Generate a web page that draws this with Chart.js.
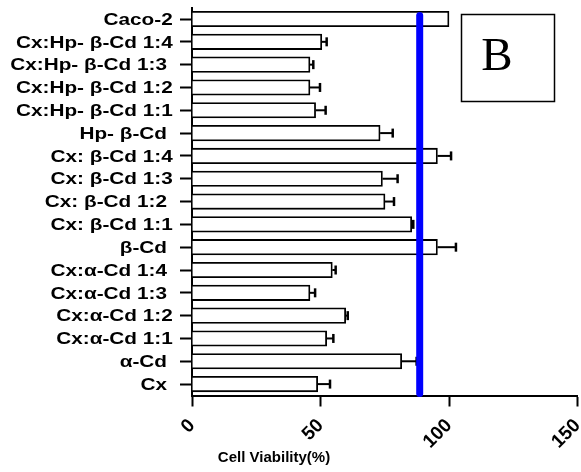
<!DOCTYPE html>
<html>
<head>
<meta charset="utf-8">
<script src="https://cdn.jsdelivr.net/npm/chart.js@4/dist/chart.umd.min.js"></script>
<style>
  html, body { margin: 0; padding: 0; background: #fff; }
  #wrap { width: 581px; height: 472px; }
</style>
</head>
<body>
<div id="wrap"><canvas id="c" width="581" height="472"></canvas></div>
<script>
// Samples, listed top to bottom
const categories = [
  'Caco-2',
  'Cx:Hp- β-Cd 1:4',
  'Cx:Hp- β-Cd 1:3 ',
  'Cx:Hp- β-Cd 1:2',
  'Cx:Hp- β-Cd 1:1',
  'Hp- β-Cd ',
  'Cx: β-Cd 1:4',
  'Cx: β-Cd 1:3',
  'Cx: β-Cd 1:2 ',
  'Cx: β-Cd 1:1',
  'β-Cd ',
  'Cx:α-Cd 1:4 ',
  'Cx:α-Cd 1:3 ',
  'Cx:α-Cd 1:2',
  'Cx:α-Cd 1:1',
  'α-Cd ',
  'Cx '
];

// Mean cell viability (%)
const viability = [100, 50.5, 45.9, 45.9, 48.1, 73.2, 95.5, 74.1, 75.1, 85.5, 95.5, 54.6, 45.9, 59.8, 52.4, 81.6, 48.9];

// Standard deviation (%)
const errors = [0, 1.9, 1.3, 3.9, 3.9, 4.9, 5.3, 5.9, 3.5, 0.6, 7.2, 1.3, 2.0, 0.8, 2.6, 5.8, 4.8];

// Value axis ticks
const xTicks = [0, 50, 100, 150];

// Reference viability level (vertical blue line)
const thresholdValue = 88.6;

const axisTitle = 'Cell Viability(%)';
const panelLetter = 'B';

const errorBarsAndThreshold = {
  id: 'errorBarsAndThreshold',
  beforeDatasetsDraw(chart) {
    // category labels, drawn slightly widened at each tick of the category axis
    const { ctx, scales: { y } } = chart;
    ctx.save();
    ctx.fillStyle = '#000';
    ctx.font = 'bold 17px "Liberation Sans", Arial, sans-serif';
    ctx.textAlign = 'right';
    ctx.textBaseline = 'middle';
    const right = y.right - 19.3;
    categories.forEach((lab, i) => {
      const py = y.getPixelForTick(i);
      ctx.save();
      ctx.translate(right, py + 1);
      ctx.scale(1.22, 1);
      ctx.fillText(lab, 0, 0);
      ctx.restore();
    });
    ctx.restore();
  },
  afterDatasetsDraw(chart) {
    const { ctx, chartArea, scales: { x } } = chart;
    const meta = chart.getDatasetMeta(0);
    ctx.save();
    ctx.strokeStyle = '#000';
    viability.forEach((v, i) => {
      const e = errors[i];
      if (!e) return;
      const yc = meta.data[i].y;
      const x0 = x.getPixelForValue(v);
      const x1 = x.getPixelForValue(v + e);
      ctx.lineWidth = 2;
      ctx.beginPath();
      ctx.moveTo(x0, yc);
      ctx.lineTo(x1, yc);
      ctx.stroke();
      ctx.lineWidth = 2.5;
      ctx.beginPath();
      ctx.moveTo(x1, yc - 4.5);
      ctx.lineTo(x1, yc + 4.5);
      ctx.stroke();
    });
    const tx = x.getPixelForValue(thresholdValue);
    ctx.strokeStyle = '#0000ff';
    ctx.lineWidth = 7;
    ctx.lineCap = 'round';
    ctx.beginPath();
    ctx.moveTo(tx, chartArea.top + 8);
    ctx.lineTo(tx, chartArea.bottom - 2);
    ctx.stroke();
    ctx.restore();
  },
  afterDraw(chart) {
    const { ctx, chartArea } = chart;
    ctx.save();
    // axis title
    ctx.fillStyle = '#000';
    ctx.font = 'bold 15px "Liberation Sans", Arial, sans-serif';
    ctx.textAlign = 'center';
    ctx.textBaseline = 'alphabetic';
    ctx.fillText(axisTitle, chartArea.left + 82, chartArea.bottom + 66);
    // panel letter box
    ctx.strokeStyle = '#000';
    ctx.lineWidth = 1.5;
    ctx.strokeRect(461.5, 14.5, 93, 87);
    ctx.font = '47px "Liberation Serif", "Times New Roman", serif';
    ctx.fillText(panelLetter, 497, 70);
    ctx.restore();
  }
};

new Chart(document.getElementById('c'), {
  type: 'bar',
  data: {
    labels: categories,
    datasets: [{
      data: viability,
      backgroundColor: '#ffffff',
      borderColor: '#000000',
      borderWidth: 1.8,
      barThickness: 15.5
    }]
  },
  options: {
    indexAxis: 'y',
    responsive: false,
    animation: false,
    devicePixelRatio: 1,
    layout: { padding: { top: 7.6, right: 3.5, bottom: 0, left: 0 } },
    plugins: { legend: { display: false }, tooltip: { enabled: false } },
    scales: {
      x: {
        type: 'linear',
        min: 0,
        max: 150,
        afterBuildTicks: s => { s.ticks = xTicks.map(v => ({ value: v })); },
        afterFit: s => { s.height = 76.5; s.paddingLeft = 0; s.paddingRight = 0; },
        border: { display: true, color: '#000', width: 2 },
        grid: { display: true, drawOnChartArea: false, drawTicks: true, tickLength: 11, tickColor: '#000', tickWidth: 2 },
        ticks: {
          color: '#000',
          font: { family: '"Liberation Sans", Arial, sans-serif', weight: 'bold', size: 19 },
          minRotation: 45,
          maxRotation: 45,
          padding: 8,
          autoSkip: false
        }
      },
      y: {
        afterFit: s => { s.width = 192; s.paddingTop = 0; s.paddingBottom = 0; },
        border: { display: true, color: '#000', width: 2 },
        grid: { display: true, offset: false, drawOnChartArea: false, drawTicks: true, tickLength: 12, tickColor: '#000', tickWidth: 2 },
        ticks: { display: false }
      }
    }
  },
  plugins: [errorBarsAndThreshold]
});
</script>
</body>
</html>
